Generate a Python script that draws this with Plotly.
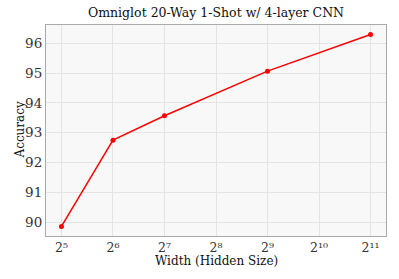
import math
import plotly.graph_objects as go

widths = [32, 64, 128, 512, 2048]
accuracy = [89.85, 92.75, 93.57, 95.07, 96.30]
tick_vals = [32, 64, 128, 256, 512, 1024, 2048]
tick_text = ["2⁵", "2⁶", "2⁷", "2⁸", "2⁹", "2¹⁰", "2¹¹"]
y_ticks = [90, 91, 92, 93, 94, 95, 96]

fig = go.Figure(go.Scatter(
    x=widths, y=accuracy, mode="lines+markers",
    line=dict(color="red", width=1.5),
    marker=dict(color="red", size=5),
))

W, H = 399, 279
L, R, T, B = 46, 13, 25, 43
font = "DejaVu Serif"
fig.update_layout(
    width=W, height=H,
    margin=dict(l=L, r=R, t=T, b=B),
    paper_bgcolor="white", plot_bgcolor="#f8f8f8",
    showlegend=False,
    font=dict(family=font, color="#222"),
    title=dict(text="Omniglot 20-Way 1-Shot w/ 4-layer CNN", xref="paper", x=0.5, xanchor="center",
               yref="container", y=1 - 13/H, yanchor="middle",
               font=dict(size=12.5, family=font, color="#111")),
    annotations=[
        dict(text="Width (Hidden Size)", xref="paper", yref="paper", x=0.5,
             y=-(261 - (H - B)) / (H - T - B), xanchor="center", yanchor="middle",
             showarrow=False, font=dict(size=12, color="#111")),
        dict(text="Accuracy", xref="paper", yref="paper", textangle=-90,
             x=-(L - 19) / (W - L - R), y=0.5, xanchor="center", yanchor="middle",
             showarrow=False, font=dict(size=12, color="#111")),
    ],
)
fig.update_xaxes(
    type="log", range=[4.7 * math.log10(2), 11.3 * math.log10(2)],
    tickvals=tick_vals, ticktext=tick_text, tickfont=dict(size=12.5, color="#333"),
    showgrid=True, gridcolor="#e4e4e4", gridwidth=1,
    showline=True, linecolor="#aaaaaa", linewidth=1, mirror=True,
    ticks="", zeroline=False, automargin=False,
)
fig.update_yaxes(
    range=[89.53, 96.62], tickvals=y_ticks, tickfont=dict(size=13.5, color="#333"),
    showgrid=True, gridcolor="#e4e4e4", gridwidth=1,
    showline=True, linecolor="#aaaaaa", linewidth=1, mirror=True,
    ticks="", zeroline=False, automargin=False,
)
fig.write_html("out.html", config={"displayModeBar": False},
               post_script="document.body.style.margin='0';document.body.style.overflow='hidden';")
